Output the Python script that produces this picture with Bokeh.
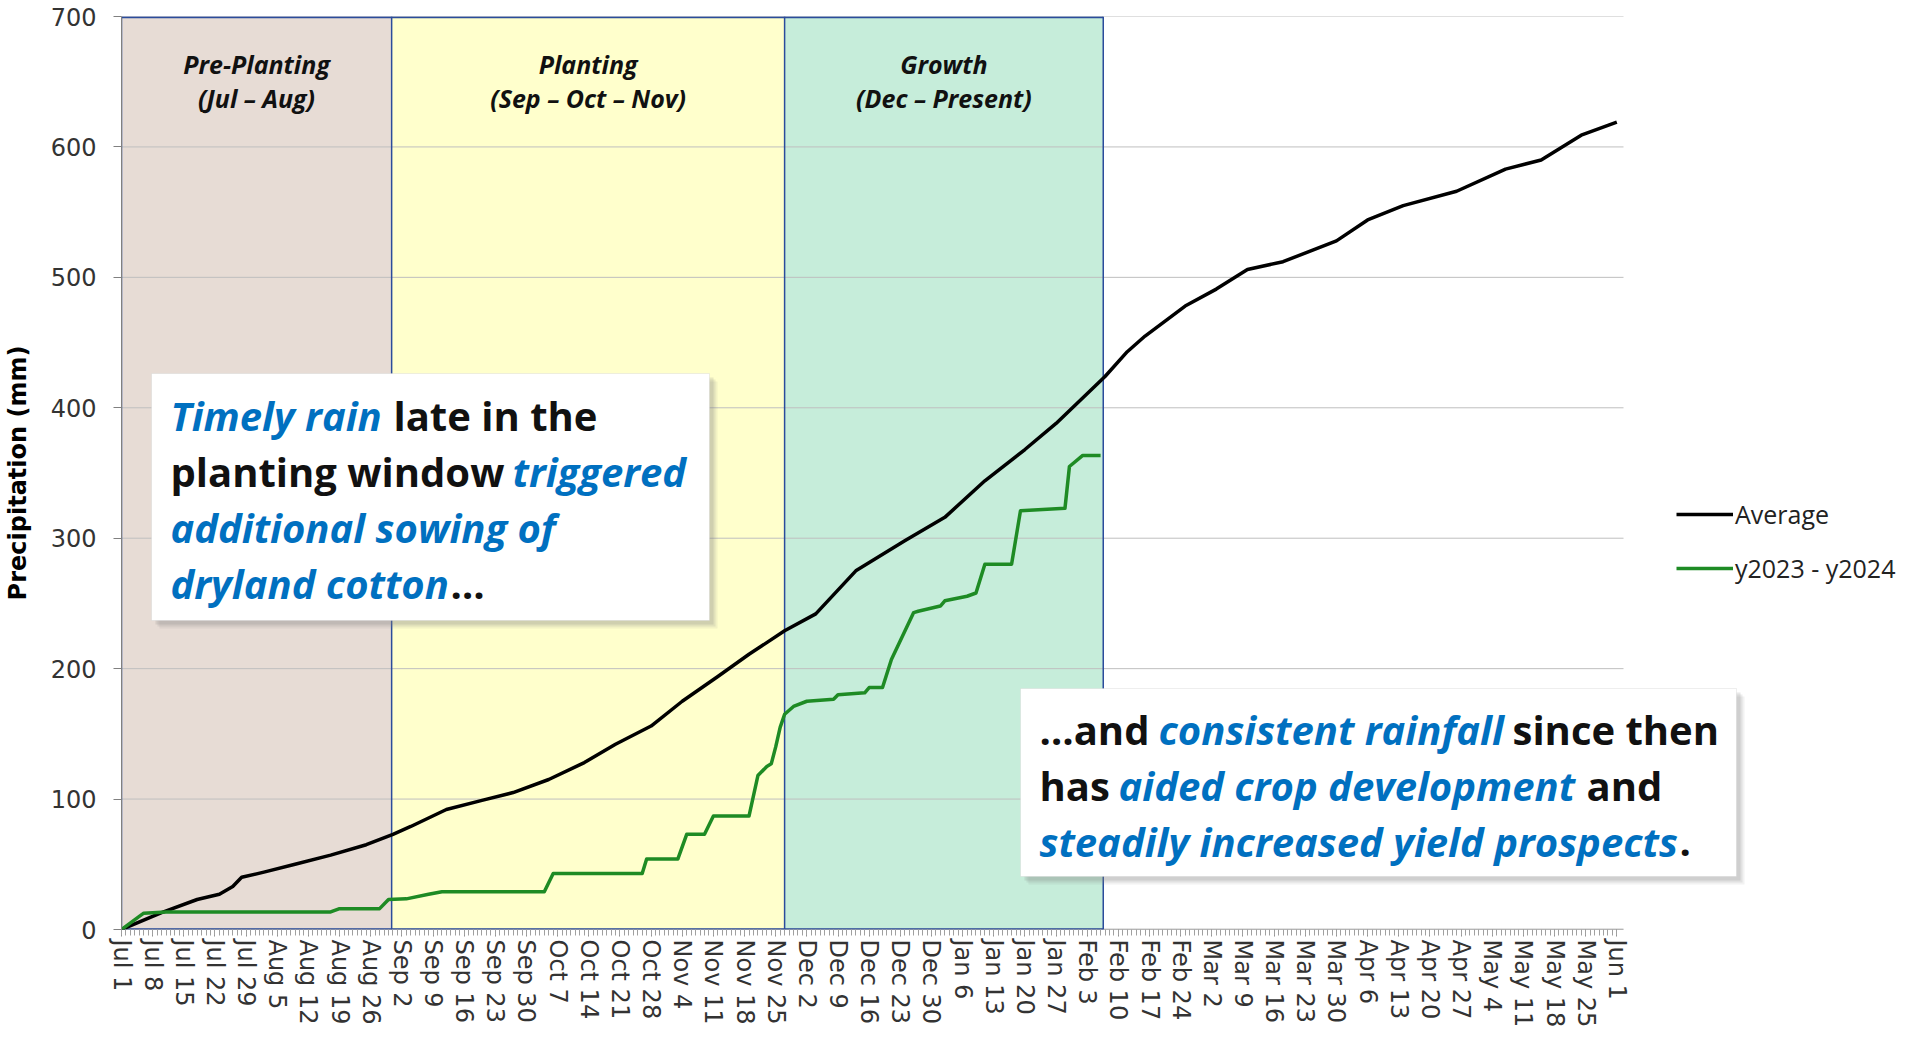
from bokeh.plotting import figure
from bokeh.models import (BoxAnnotation, Label, Legend, LegendItem, FixedTicker, Range1d)
from bokeh.embed import file_html
from bokeh.resources import INLINE

# ---------------- data ----------------
# x = days since Jul 1 2023
tick_days = list(range(0, 337, 7))
tick_labels = ["Jul 1", "Jul 8", "Jul 15", "Jul 22", "Jul 29", "Aug 5", "Aug 12", "Aug 19", "Aug 26",
               "Sep 2", "Sep 9", "Sep 16", "Sep 23", "Sep 30", "Oct 7", "Oct 14", "Oct 21", "Oct 28",
               "Nov 4", "Nov 11", "Nov 18", "Nov 25", "Dec 2", "Dec 9", "Dec 16", "Dec 23", "Dec 30",
               "Jan 6", "Jan 13", "Jan 20", "Jan 27", "Feb 3", "Feb 10", "Feb 17", "Feb 24",
               "Mar 2", "Mar 9", "Mar 16", "Mar 23", "Mar 30", "Apr 6", "Apr 13", "Apr 20", "Apr 27",
               "May 4", "May 11", "May 18", "May 25", "Jun 1"]
y_ticks = [0, 100, 200, 300, 400, 500, 600, 700]

avg_day = [0, 9, 17, 22, 25, 27, 32, 39, 47, 55, 61, 65, 73, 81, 88, 96, 104, 111, 119, 126,
           134, 141, 149, 156, 165, 176, 185, 194, 203, 210, 221, 226, 230, 239, 246, 253, 261,
           273, 280, 288, 300, 311, 319, 328, 336]
avg_mm = [0, 13, 23, 27, 33, 40, 44, 50, 57, 65, 73, 79, 92, 99, 105, 115, 128, 142, 156, 175,
          194, 211, 229, 242, 275, 298, 316, 344, 368, 388, 424, 443, 455, 478, 491, 506, 512,
          528, 544, 555, 566, 583, 590, 609, 619]

cur_day = [0, 4, 5, 10, 47, 49, 58, 60, 64, 69, 72, 95, 97, 117, 118, 125, 127, 131, 133, 141,
           143, 145, 146, 147, 148, 149, 151, 154, 160, 161, 167, 168, 171, 173, 178, 179, 184,
           185, 190, 192, 194, 200, 202, 212, 213, 216, 220]
cur_mm = [0, 10, 12.5, 13.5, 13.5, 16, 16, 23, 23.5, 27, 29, 29, 43, 43, 54, 54, 73, 73, 87, 87,
          118, 125, 127, 140, 155, 165, 171, 175, 176.5, 180, 181.5, 185.5, 185.5, 207, 243, 244,
          248, 252, 255.5, 258, 280, 280, 321, 323, 355, 363.5, 363.5]

series_names = ["Average", "y2023 - y2024"]

phase_names = ["Pre-Planting", "Planting", "Growth"]
phase_periods = ["(Jul \u2013 Aug)", "(Sep \u2013 Oct \u2013 Nov)", "(Dec \u2013 Present)"]
phase_start = [0, 60.7, 149]
phase_end = [60.7, 149, 220.6]
phase_colors = ["#E7DCD5", "#FFFFCC", "#C6EDDA"]

# ---------------- layout helpers (page pixels -> data) ----------------
PX_PER_DAY = 1502 / 337.5
AXIS_END = 337.5            # where the axis / gridlines stop
FRAME_L, FRAME_T, FRAME_W, FRAME_H = 119, 24, 1784, 913
X_MAX, Y_MAX = FRAME_W / PX_PER_DAY, 700.0


def dx(px):
    return (px - FRAME_L) / PX_PER_DAY


def dy(py):
    return (FRAME_T + FRAME_H - py) / FRAME_H * Y_MAX


p = figure(frame_width=FRAME_W, frame_height=FRAME_H,
           x_range=Range1d(0, X_MAX), y_range=Range1d(0, Y_MAX),
           output_backend="svg", toolbar_location=None,
           min_border_left=111, min_border_top=16, min_border_right=0, min_border_bottom=100,
           background_fill_color="white", border_fill_color="white", outline_line_color=None)

p.xgrid.grid_line_color = None
p.ygrid.grid_line_color = None

# y axis
p.yaxis.ticker = FixedTicker(ticks=y_ticks)
p.yaxis.axis_label = "Precipitation (mm)"
p.yaxis.axis_label_text_font = "DejaVu Sans"
p.yaxis.axis_label_text_font_style = "bold"
p.yaxis.axis_label_text_font_size = "24px"
p.yaxis.axis_label_text_color = "#000000"
p.yaxis.axis_label_standoff = 16
p.yaxis.major_label_text_font = "DejaVu Sans"
p.yaxis.major_label_text_font_size = "24px"
p.yaxis.major_label_text_color = "#333333"
p.yaxis.major_label_standoff = 17
p.yaxis.major_tick_out = 8
p.yaxis.major_tick_in = 0
p.yaxis.minor_tick_line_color = None
p.yaxis.major_tick_line_color = "#808080"
p.yaxis.axis_line_color = "#808080"

# x axis
p.xaxis.ticker = FixedTicker(ticks=tick_days, minor_ticks=list(range(0, 337)))
p.xaxis.major_label_overrides = {d: t for d, t in zip(tick_days, tick_labels)}
p.xaxis.major_label_orientation = "vertical"
p.xaxis.major_label_text_font = "DejaVu Sans"
p.xaxis.major_label_text_font_size = "24px"
p.xaxis.major_label_text_color = "#333333"
p.xaxis.major_label_standoff = 3
p.xaxis.major_tick_out = 7
p.xaxis.major_tick_in = 0
p.xaxis.minor_tick_out = 6
p.xaxis.minor_tick_in = 0
p.xaxis.major_tick_line_color = "#8A8A8A"
p.xaxis.minor_tick_line_color = "#A0A0A0"
p.xaxis.axis_line_color = None

# phase bands
for s, e, c in zip(phase_start, phase_end, phase_colors):
    p.add_layout(BoxAnnotation(left=s, right=e, bottom=0, top=Y_MAX, fill_color=c, fill_alpha=1.0,
                               line_color=None, level="image"))

# horizontal gridlines, stopping at the end of the axis
p.segment(x0=[0] * len(y_ticks), y0=y_ticks, x1=[AXIS_END] * len(y_ticks), y1=y_ticks,
          line_color="#BFBFBF", line_width=1)
# x axis line
p.segment(x0=[0], y0=[0], x1=[AXIS_END], y1=[0], line_color="#8C8C8C", line_width=1.5)

# band borders
edges = sorted(set(phase_start + phase_end))
p.segment(x0=edges, y0=[0] * len(edges), x1=edges, y1=[Y_MAX] * len(edges),
          line_color="#2B4C9B", line_width=1.5)
p.segment(x0=[phase_start[0]], y0=[Y_MAX - 0.6], x1=[phase_end[-1]], y1=[Y_MAX - 0.6],
          line_color="#2B4C9B", line_width=2)
p.segment(x0=[phase_start[0]], y0=[0.4], x1=[phase_end[-1]], y1=[0.4],
          line_color="#2B4C9B", line_width=1.5)

for s, e, n, per in zip(phase_start, phase_end, phase_names, phase_periods):
    for txt, py in ((n, 71), (per, 105)):
        p.add_layout(Label(x=(s + e) / 2, y=dy(py), text=txt, text_align="center",
                           text_baseline="middle", text_font="Open Sans", text_font_style="bold italic",
                           text_font_size="25px", text_color="#111111"))

# series
r_avg = p.line(avg_day, avg_mm, line_color="#000000", line_width=3.5, line_join="round")
r_cur = p.line(cur_day, cur_mm, line_color="#1E8B24", line_width=3.5, line_join="round")

legend = Legend(items=[LegendItem(label=series_names[0], renderers=[r_avg]),
                       LegendItem(label=series_names[1], renderers=[r_cur])],
                location=(1555, 344), orientation="vertical",
                border_line_color=None, background_fill_alpha=0, padding=0, margin=0,
                spacing=20, glyph_width=57, glyph_height=28, label_height=28, label_standoff=2,
                label_text_font="Open Sans", label_text_font_size="25px", label_text_color="#222222")
p.add_layout(legend)

# annotation boxes
BLUE = "#0070C0"
boxes = [(149, 707, 381, 628), (1018, 1734, 696, 884)]
for (l, r, t, b) in boxes:
    for off, a in ((8, 0.10), (6, 0.14), (4, 0.18)):
        p.add_layout(BoxAnnotation(left=dx(l + off), right=dx(r + off), top=dy(t + off), bottom=dy(b + off),
                                   fill_color="#7F7F7F", fill_alpha=a, line_color=None, level="annotation"))
    p.add_layout(BoxAnnotation(left=dx(l), right=dx(r), top=dy(t), bottom=dy(b), fill_color="white",
                               fill_alpha=1.0, line_color="#C8C8C8", line_width=1, level="annotation"))

# (text, page-x, page-y, blue?)
segments = [
    ("Timely rain", 168, 423, True), ("late in the", 391, 423, False),
    ("planting window", 168, 479, False), ("triggered", 510, 479, True),
    ("additional sowing of", 168, 535, True),
    ("dryland cotton", 168, 591, True), ("\u2026", 448, 591, False),
    ("\u2026and", 1037, 737, False), ("consistent rainfall", 1156, 737, True), ("since then", 1510, 737, False),
    ("has", 1037, 793, False), ("aided crop development", 1116, 793, True), ("and", 1584, 793, False),
    ("steadily increased yield prospects", 1037, 849, True), (".", 1677, 849, False),
]
for txt, px, py, blue in segments:
    p.add_layout(Label(x=dx(px), y=dy(py), text=txt, text_align="left", text_baseline="middle",
                       text_font="Open Sans", text_font_style="bold italic" if blue else "bold",
                       text_font_size="40px", text_color=BLUE if blue else "#111111"))

open("out.html", "w").write(file_html(p, INLINE))
